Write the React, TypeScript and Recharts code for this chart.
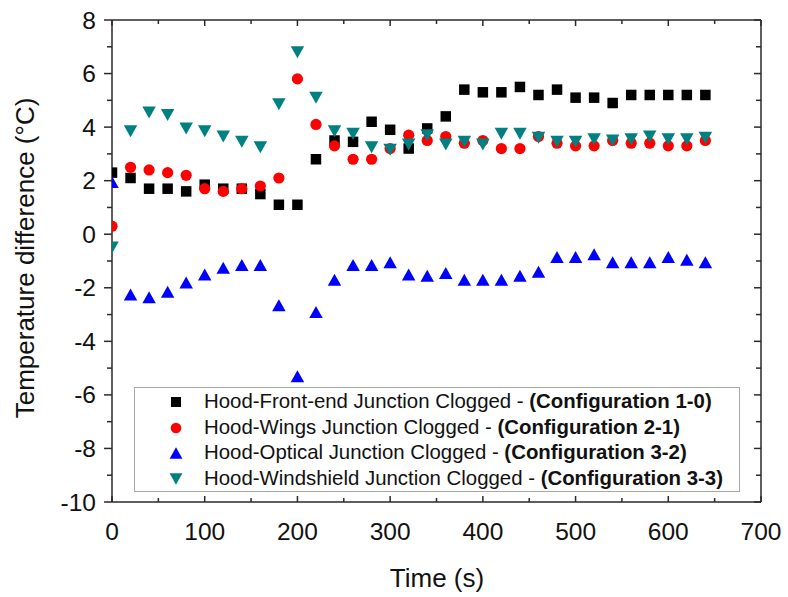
import React from 'react';
import { ScatterChart, Scatter, XAxis, YAxis, Legend, Label } from 'recharts';

const times = [0, 20, 40, 60, 80, 100, 120, 140, 160, 180, 200, 220, 240, 260, 280, 300, 320, 340, 360, 380, 400, 420, 440, 460, 480, 500, 520, 540, 560, 580, 600, 620, 640];

const config10 = [2.3, 2.1, 1.7, 1.7, 1.6, 1.85, 1.7, 1.7, 1.5, 1.1, 1.1, 2.8, 3.5, 3.45, 4.2, 3.9, 3.2, 3.95, 4.4, 5.4, 5.3, 5.3, 5.5, 5.2, 5.4, 5.1, 5.1, 4.9, 5.2, 5.2, 5.2, 5.2, 5.2];
const config21 = [0.3, 2.5, 2.4, 2.3, 2.2, 1.7, 1.6, 1.7, 1.8, 2.1, 5.8, 4.1, 3.3, 2.8, 2.8, 3.2, 3.7, 3.5, 3.65, 3.4, 3.5, 3.2, 3.2, 3.65, 3.4, 3.3, 3.3, 3.5, 3.4, 3.4, 3.3, 3.3, 3.5];
const config32 = [1.95, -2.25, -2.35, -2.15, -1.8, -1.5, -1.25, -1.15, -1.15, -2.65, -5.3, -2.9, -1.7, -1.15, -1.15, -1.05, -1.5, -1.55, -1.45, -1.7, -1.7, -1.7, -1.55, -1.4, -0.85, -0.85, -0.75, -1.05, -1.05, -1.05, -0.85, -0.95, -1.05];
const config33 = [-0.5, 3.85, 4.55, 4.45, 3.95, 3.85, 3.65, 3.45, 3.25, 4.85, 6.8, 5.1, 3.85, 3.75, 3.25, 3.15, 3.35, 3.7, 3.35, 3.45, 3.35, 3.75, 3.75, 3.6, 3.45, 3.45, 3.55, 3.5, 3.55, 3.65, 3.55, 3.55, 3.6];

const xTicks = [0, 50, 100, 150, 200, 250, 300, 350, 400, 450, 500, 550, 600, 650, 700];
const yTicks = [-10, -9, -8, -7, -6, -5, -4, -3, -2, -1, 0, 1, 2, 3, 4, 5, 6, 7, 8];

const seriesNames = [
  'Hood-Front-end Junction Clogged',
  'Hood-Wings Junction Clogged',
  'Hood-Optical Junction Clogged',
  'Hood-Windshield Junction Clogged',
];
const seriesConfigs = ['(Configuration 1-0)', '(Configuration 2-1)', '(Configuration 3-2)', '(Configuration 3-3)'];
const seriesColors = ['#000000', '#ff0000', '#0000ff', '#008080'];
const seriesShapes = ['square', 'circle', 'up', 'down'];

const FONT = '"Liberation Sans", Arial, sans-serif';
const AXIS = '#2a2a2a';

const toData = (arr: number[]) => times.map((t, i) => ({ t, v: arr[i] }));

function markerEl(kind: string, cx: number, cy: number, color: string, scale = 1) {
  if (kind === 'square') {
    const s = 10.5 * scale;
    return <rect x={cx - s / 2} y={cy - s / 2} width={s} height={s} fill={color} />;
  }
  if (kind === 'circle') {
    return <circle cx={cx} cy={cy} r={5.6 * scale} fill={color} />;
  }
  const w = 13.5 * scale;
  const h = 12 * scale;
  if (kind === 'up') {
    return <polygon points={`${cx - w / 2},${cy + h / 2} ${cx + w / 2},${cy + h / 2} ${cx},${cy - h / 2}`} fill={color} />;
  }
  return <polygon points={`${cx - w / 2},${cy - h / 2} ${cx + w / 2},${cy - h / 2} ${cx},${cy + h / 2}`} fill={color} />;
}

const makeShape = (idx: number) => (props: any) => {
  const { cx, cy } = props;
  if (cx == null || cy == null) return <g />;
  return markerEl(seriesShapes[idx], cx, cy, seriesColors[idx]);
};

const BottomTick = (props: any) => {
  const { x, y, payload } = props;
  const major = payload.value % 100 === 0;
  return (
    <g>
      <line x1={x} x2={x} y1={y} y2={y - (major ? 6 : 4)} stroke={AXIS} strokeWidth={1.5} />
      {major && (
        <text x={x} y={y + 38} textAnchor="middle" fontSize={24.5} fontFamily={FONT} fill="#111">
          {payload.value}
        </text>
      )}
    </g>
  );
};

const TopTick = (props: any) => {
  const { x, y, payload } = props;
  const major = payload.value % 100 === 0;
  return <line x1={x} x2={x} y1={y} y2={y + (major ? 6 : 4)} stroke={AXIS} strokeWidth={1.5} />;
};

const LeftTick = (props: any) => {
  const { x, y, payload } = props;
  const major = payload.value % 2 === 0;
  return (
    <g>
      <line x1={x} x2={x - (major ? 8 : 5)} y1={y} y2={y} stroke={AXIS} strokeWidth={1.5} />
      {major && (
        <text x={x - 16} y={y + 8.5} textAnchor="end" fontSize={24.5} fontFamily={FONT} fill="#111">
          {payload.value}
        </text>
      )}
    </g>
  );
};

const RightTick = (props: any) => {
  const { x, y, payload } = props;
  const major = payload.value % 2 === 0;
  return <line x1={x} x2={x - (major ? 7 : 5)} y1={y} y2={y} stroke={AXIS} strokeWidth={1.5} />;
};

const renderLegend = () => (
  <div
    style={{
      width: 606,
      height: 105,
      boxSizing: 'border-box',
      border: '1px solid #a8a8a8',
      background: '#fff',
      paddingTop: 1,
      fontFamily: FONT,
      fontSize: 20.4,
      color: '#111',
    }}
  >
    {seriesNames.map((name, i) => (
      <div key={name} style={{ position: 'relative', height: 25.7, lineHeight: '25.7px', whiteSpace: 'nowrap' }}>
        <svg width={20} height={20} style={{ position: 'absolute', left: 31, top: 3 }}>
          {markerEl(seriesShapes[i], 10, 10, seriesColors[i], 0.95)}
        </svg>
        <span style={{ position: 'absolute', left: 69, top: 0 }}>
          {name} - <b>{seriesConfigs[i]}</b>
        </span>
      </div>
    ))}
  </div>
);

export default function App() {
  const allSeries = [config10, config21, config32, config33];
  return (
    <div style={{ position: 'absolute', left: 0, top: 0, width: 788, height: 597, background: '#fff' }}>
      <ScatterChart width={788} height={597} margin={{ top: 19, right: 26, bottom: 0, left: 0 }}>
        <XAxis
          dataKey="t"
          type="number"
          domain={[0, 700]}
          allowDataOverflow
          ticks={xTicks}
          interval={0}
          tick={<BottomTick />}
          tickLine={false}
          tickSize={0}
          tickMargin={0}
          height={95}
          axisLine={{ stroke: AXIS, strokeWidth: 1.5 }}
        >
          <Label
            content={() => (
              <text x={437} y={587} textAnchor="middle" fontSize={26} fontFamily={FONT} fill="#111">
                Time (s)
              </text>
            )}
          />
        </XAxis>
        <XAxis
          xAxisId="top"
          orientation="top"
          dataKey="t"
          type="number"
          domain={[0, 700]}
          allowDataOverflow
          ticks={xTicks}
          interval={0}
          tick={<TopTick />}
          tickLine={false}
          tickSize={0}
          tickMargin={0}
          height={1}
          axisLine={{ stroke: AXIS, strokeWidth: 1.5 }}
        />
        <YAxis
          dataKey="v"
          type="number"
          domain={[-10, 8]}
          allowDataOverflow
          ticks={yTicks}
          interval={0}
          tick={<LeftTick />}
          tickLine={false}
          tickSize={0}
          tickMargin={0}
          width={112}
          axisLine={{ stroke: AXIS, strokeWidth: 1.5 }}
        >
          <Label
            content={() => (
              <text
                x={34}
                y={258}
                transform="rotate(-90 34 258)"
                textAnchor="middle"
                fontSize={26}
                fontFamily={FONT}
                fill="#111"
              >
                Temperature difference (°C)
              </text>
            )}
          />
        </YAxis>
        <YAxis
          yAxisId="right"
          orientation="right"
          dataKey="v"
          type="number"
          domain={[-10, 8]}
          allowDataOverflow
          ticks={yTicks}
          interval={0}
          tick={<RightTick />}
          tickLine={false}
          tickSize={0}
          tickMargin={0}
          width={1}
          axisLine={{ stroke: AXIS, strokeWidth: 1.5 }}
        />
        {allSeries.map((arr, i) => (
          <Scatter
            key={seriesNames[i]}
            name={seriesNames[i]}
            data={toData(arr)}
            fill={seriesColors[i]}
            shape={makeShape(i)}
            isAnimationActive={false}
          />
        ))}
        <Legend
          layout="vertical"
          align="center"
          verticalAlign="middle"
          content={renderLegend}
          wrapperStyle={{ position: 'absolute', left: 134, top: 387, width: 606, height: 105 }}
        />
      </ScatterChart>
    </div>
  );
}
